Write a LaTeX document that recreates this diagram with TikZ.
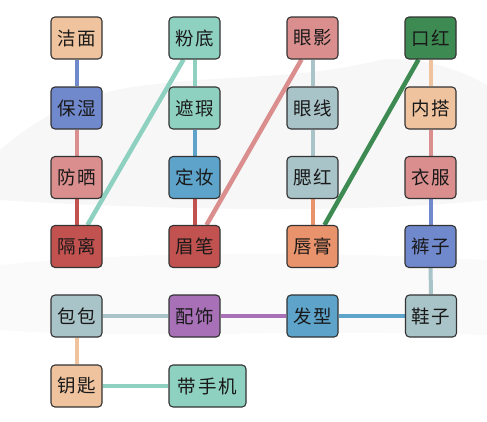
\documentclass[tikz,border=0pt]{standalone}
\usepackage{fontspec}
\setmainfont{Noto Sans CJK SC}
\usetikzlibrary{backgrounds}
\definecolor{cpeach}{HTML}{F0C39F}
\definecolor{cblue}{HTML}{7088CC}
\definecolor{cpink}{HTML}{DA8E8E}
\definecolor{cred}{HTML}{C2524F}
\definecolor{cteal}{HTML}{8FD1C0}
\definecolor{csky}{HTML}{5DA3CA}
\definecolor{cgrey}{HTML}{A9C4C9}
\definecolor{corange}{HTML}{E9936C}
\definecolor{cgreen}{HTML}{3D8B52}
\definecolor{cpurple}{HTML}{A870B7}
\definecolor{cedge}{HTML}{333333}
\tikzset{
  box/.style={draw=cedge, line width=1.1pt, rounded corners=4pt, minimum width=51pt, minimum height=42pt, inner sep=0pt, fill=#1, font=\fontsize{18.5}{18.5}\selectfont\addfontfeature{LetterSpace=10}, text=black!90},
  link/.style={line width=4pt, draw=#1},
  dlink/.style={line width=4.5pt, draw=#1},
}
\begin{document}
\begin{tikzpicture}[x=1pt,y=1pt]
\useasboundingbox (0,0) rectangle (487,-421);

% nodes
\node[box=cpeach]  (jiemian) at (76.5,-38) {洁面};
\node[box=cblue]   (baoshi)  at (76.5,-108) {保湿};
\node[box=cpink]   (fangshai) at (76.5,-177.5) {防晒};
\node[box=cred]    (geli)    at (76.5,-246.5) {隔离};
\node[box=cteal]   (fendi)   at (194.5,-38) {粉底};
\node[box=cteal]   (zhexia)  at (194.5,-108) {遮瑕};
\node[box=csky]    (dingzhuang) at (194.5,-177.5) {定妆};
\node[box=cred]    (meibi)   at (194.5,-246.5) {眉笔};
\node[box=cpink]   (yanying) at (312.5,-38) {眼影};
\node[box=cgrey]   (yanxian) at (312.5,-108) {眼线};
\node[box=cgrey]   (saihong) at (312.5,-177.5) {腮红};
\node[box=corange] (chungao) at (312.5,-246.5) {唇膏};
\node[box=cgreen]  (kouhong) at (430.5,-38) {口红};
\node[box=cpeach]  (neida)   at (430.5,-108) {内搭};
\node[box=cpink]   (yifu)    at (430.5,-177.5) {衣服};
\node[box=cblue]   (kuzi)    at (430.5,-246.5) {裤子};
\node[box=cgrey]   (baobao)  at (76.5,-316) {包包};
\node[box=cpurple] (peishi)  at (194.5,-316) {配饰};
\node[box=csky]    (faxing)  at (312.5,-316) {发型};
\node[box=cgrey]   (xiezi)   at (431,-316) {鞋子};
\node[box=cpeach]  (yaoshi)  at (76.5,-386) {钥匙};
\node[box=cteal, minimum width=77pt] (daishouji) at (207.5,-386) {带手机};

\begin{scope}[on background layer]
\fill[white] (0,0) rectangle (487,-421);
% faint background scenery
\fill[black!3] (0,-150) .. controls (40,-115) and (90,-90) .. (150,-85) .. controls (220,-75) and (300,-80) .. (380,-60) .. controls (420,-55) and (460,-70) .. (487,-85) -- (487,-200) .. controls (380,-212) and (200,-212) .. (0,-200) -- cycle;
\fill[black!2] (0,-265) .. controls (100,-255) and (250,-248) .. (487,-260) -- (487,-335) .. controls (300,-328) and (150,-340) .. (0,-330) -- cycle;
\end{scope}

\begin{scope}[on background layer]
\draw[link=cblue] (jiemian) -- (baoshi);
\draw[link=cpink] (baoshi) -- (fangshai);
\draw[link=cred] (fangshai) -- (geli);
\draw[link=cteal] (fendi) -- (zhexia);
\draw[link=csky] (zhexia) -- (dingzhuang);
\draw[link=cred] (dingzhuang) -- (meibi);
\draw[link=cgrey] (yanying) -- (yanxian);
\draw[link=cgrey] (yanxian) -- (saihong);
\draw[link=corange] (saihong) -- (chungao);
\draw[link=cpeach] (kouhong) -- (neida);
\draw[link=cpink] (neida) -- (yifu);
\draw[link=cblue] (yifu) -- (kuzi);
\draw[link=cgrey] (kuzi) -- (xiezi);
\draw[link=csky] (xiezi) -- (faxing);
\draw[link=cpurple] (faxing) -- (peishi);
\draw[link=cgrey] (peishi) -- (baobao);
\draw[link=cpeach] (baobao) -- (yaoshi);
\draw[link=cteal] (yaoshi) -- (daishouji);
\draw[dlink=cteal] ([xshift=-11pt]fendi.south) -- ([xshift=11pt]geli.north);
\draw[dlink=cpink] ([xshift=-11pt]yanying.south) -- ([xshift=12pt]meibi.north);
\draw[dlink=cgreen] ([xshift=-12pt]kouhong.south) -- ([xshift=12pt]chungao.north);
\end{scope}
\end{tikzpicture}
\end{document}
